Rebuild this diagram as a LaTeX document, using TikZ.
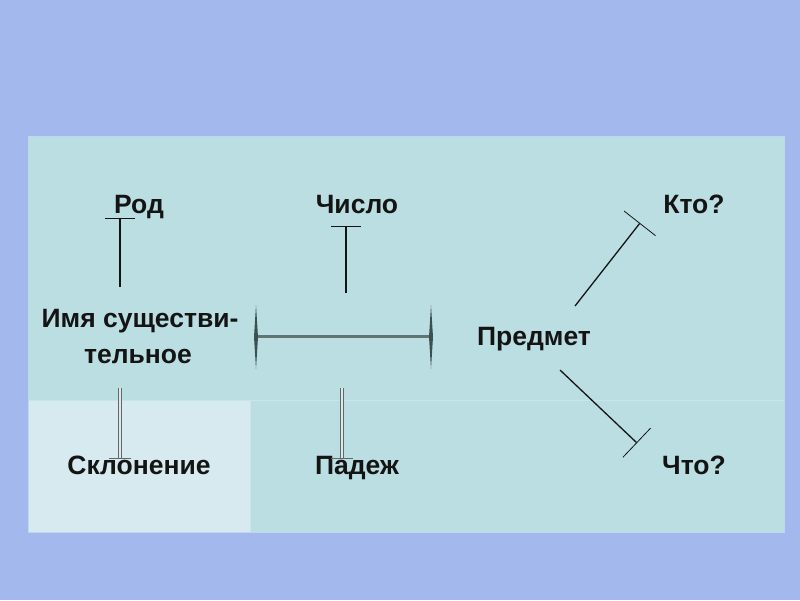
\documentclass[tikz,border=0pt]{standalone}
\usepackage{fontspec}
\setmainfont{Liberation Sans}
\usetikzlibrary{arrows.meta}
\definecolor{bgblue}{RGB}{163,184,236}
\definecolor{cellteal}{RGB}{187,222,227}
\definecolor{celllight}{RGB}{214,234,240}
\definecolor{gridline}{RGB}{200,228,236}
\definecolor{barcol}{RGB}{92,118,120}
\definecolor{spikecol}{RGB}{60,80,82}
\definecolor{ink}{RGB}{20,20,20}
\tikzset{
  lbl/.style={font=\fontsize{26.5}{30}\selectfont\bfseries, text=ink, inner sep=0pt, anchor=base},
  conn/.style={draw=ink, line width=1.3pt, -{Bar[width=30pt,line width=0.8pt]}},
  connd/.style={draw=ink, line width=1.3pt, -{Bar[width=40pt,line width=0.8pt]}},
  dconn/.style={draw=gray!80!black, line width=0.6pt, double=celllight, double distance=2.2pt},
}
\begin{document}
\begin{tikzpicture}[x=1pt,y=-1pt]
\useasboundingbox (0,0) rectangle (800,600);
\fill[bgblue] (0,0) rectangle (800,600);
% table
\fill[cellteal] (28,136) rectangle (784,532);
\fill[celllight] (28,400) rectangle (250,532);
\draw[gridline, line width=0.6pt] (28,400) -- (784,400);
\draw[gridline, line width=0.6pt] (250,400) -- (250,532);
\draw[gridline!70!bgblue, line width=1pt] (28,136) rectangle (784,532);
% labels
\node[lbl] (rod) at (139,213) {Род};
\node[lbl] (chislo) at (357,213) {Число};
\node[lbl] (kto) at (694,213) {Кто?};
\node[lbl] (ims1) at (140,327) {Имя существи-};
\node[lbl] (ims2) at (138,363) {тельное};
\node[lbl] (predmet) at (534,345) {Предмет};
\node[lbl] (sklon) at (139,474) {Склонение};
\node[lbl] (padezh) at (357,474) {Падеж};
\node[lbl] (chto) at (694,474) {Что?};
% coordinates
\coordinate (rodS) at (120,287);
\coordinate (rodE) at (120,218);
\coordinate (chS) at (346,293);
\coordinate (chE) at (346,226);
\coordinate (ktoS) at (575,306);
\coordinate (ktoE) at (640,223);
\coordinate (chtoS) at (560,370);
\coordinate (chtoE) at (637,443);
\coordinate (skS) at (120,388);
\coordinate (skE) at (120,458);
\coordinate (paS) at (342,388);
\coordinate (paE) at (342,458);
\coordinate (hL) at (256,337);
\coordinate (hR) at (431,337);
% connectors
\draw[conn] (rodS) -- (rodE);
\draw[conn] (chS) -- (chE);
\draw[connd] (ktoS) -- (ktoE);
\draw[connd] (chtoS) -- (chtoE);
\draw[dconn] (skS) -- (skE);
\draw[gray!80!black, line width=1pt] ([xshift=-11pt]skE) -- ([xshift=11pt]skE);
\draw[dconn] (paS) -- (paE);
\draw[gray!80!black, line width=1pt] ([xshift=-11pt]paE) -- ([xshift=11pt]paE);
% horizontal bar
\draw[barcol, line width=4pt] (hL) -- (hR);
\draw[white!70!barcol, line width=0.8pt] ([yshift=-1.2pt]hL) -- ([yshift=-1.2pt]hR);
\fill[spikecol] ([yshift=-32pt]hL) -- ([xshift=2pt]hL) -- ([yshift=32pt]hL) -- ([xshift=-2pt]hL) -- cycle;
\fill[spikecol] ([yshift=-32pt]hR) -- ([xshift=2pt]hR) -- ([yshift=32pt]hR) -- ([xshift=-2pt]hR) -- cycle;
\end{tikzpicture}
\end{document}
